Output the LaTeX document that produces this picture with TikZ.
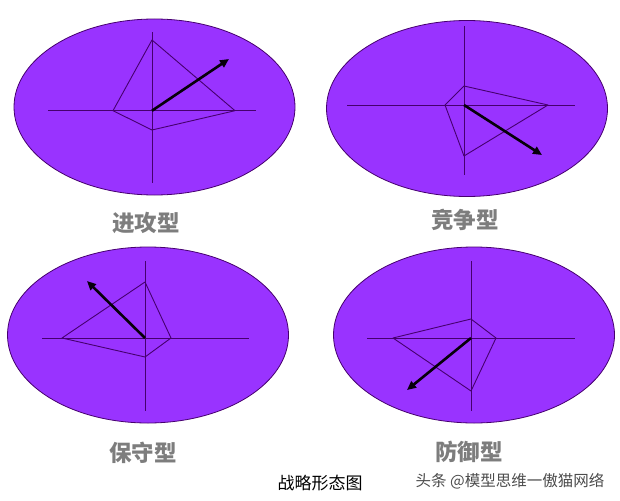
\documentclass[tikz,border=0pt]{standalone}
\usepackage{fontspec}
\newfontfamily\cjk{Noto Sans CJK SC}
\usetikzlibrary{shapes.geometric,arrows.meta}
\definecolor{violetfill}{RGB}{153,51,255}
\definecolor{violetline}{RGB}{70,0,110}
\definecolor{labelgray}{RGB}{125,125,125}
\tikzset{
  oval/.style={ellipse, draw=violetline, fill=violetfill, line width=0.8pt,
    minimum width=281pt, minimum height=176pt, inner sep=0pt},
  axis/.style={violetline, line width=0.9pt},
  kite/.style={violetline, line width=0.9pt, line join=round},
  trend/.style={-{Triangle[length=9pt,width=8pt]}, line width=2.6pt, black!90!violetline},
  kind/.style={font=\cjk\bfseries\fontsize{22.5}{22.5}\selectfont, text=labelgray},
}
\begin{document}
\begin{tikzpicture}[x=1pt,y=-1pt]
\useasboundingbox (0,0) rectangle (620,500);
%
             \node [oval] at (154.5,107) (o1) {};
              \node [oval] at (467,108.5) (o2) {};
                   \node [oval] at (148,335) (o3) {};
                       \node [oval] at (474,335) (o4) {};
%
\coordinate (w1) at (48,110.7);  \coordinate (e1) at (256,110.7);
\coordinate (n1) at (152,32);   \coordinate (s1) at (152,183);
\coordinate (c1) at (152,110.7);
\coordinate (t1) at (152,40);   \coordinate (r1) at (235,110.7);
\coordinate (b1) at (152,130);  \coordinate (l1) at (113,110.7);
\coordinate (a1) at (229,59);
%
\coordinate (w2) at (347,105);  \coordinate (e2) at (575,105);
\coordinate (n2) at (464,26);   \coordinate (s2) at (464,175);
\coordinate (c2) at (464,105);
\coordinate (t2) at (464,86);   \coordinate (r2) at (548,105);
\coordinate (b2) at (464,156);  \coordinate (l2) at (445,105);
\coordinate (a2) at (542,155);
%
\coordinate (w3) at (42,338);   \coordinate (e3) at (249,338);
\coordinate (n3) at (145,261);  \coordinate (s3) at (145,411);
\coordinate (c3) at (145,338);
\coordinate (t3) at (145,282);  \coordinate (r3) at (171,338);
\coordinate (b3) at (145,357);  \coordinate (l3) at (62,338);
\coordinate (a3) at (87,281);
%
\coordinate (w4) at (367,338);  \coordinate (e4) at (575,338);
\coordinate (n4) at (471,261);  \coordinate (s4) at (471,411);
\coordinate (c4) at (471,338);
\coordinate (t4) at (471,319);  \coordinate (r4) at (496,338);
\coordinate (b4) at (471,391);  \coordinate (l4) at (393,338);
\coordinate (a4) at (407,390);
%
\draw[axis] (w1)--(e1);  \draw[axis] (n1)--(s1);
\draw[kite] (t1)--(r1)--(b1)--(l1)--cycle;
\draw[trend] (c1)--(a1);
\draw[axis] (w2)--(e2);  \draw[axis] (n2)--(s2);
\draw[kite] (t2)--(r2)--(b2)--(l2)--cycle;
\draw[trend] (c2)--(a2);
\draw[axis] (w3)--(e3);  \draw[axis] (n3)--(s3);
\draw[kite] (t3)--(r3)--(b3)--(l3)--cycle;
\draw[trend] (c3)--(a3);
\draw[axis] (w4)--(e4);  \draw[axis] (n4)--(s4);
\draw[kite] (t4)--(r4)--(b4)--(l4)--cycle;
\draw[trend] (c4)--(a4);
%
\node [kind] at (146,223) (k1) {进攻型};
\node [kind] at (465,220) (k2) {竞争型};
\node [kind] at (143,453) (k3) {保守型};
\node [kind] at (469,452) (k4) {防御型};
\node [font=\cjk\fontsize{17}{17}\selectfont] at (320,483) (title) {战略形态图};
\node [font=\cjk\fontsize{15.5}{15.5}\selectfont, text=black!70] at (510,481) (mark) {头条 @模型思维一傲猫网络};
\end{tikzpicture}
\end{document}
